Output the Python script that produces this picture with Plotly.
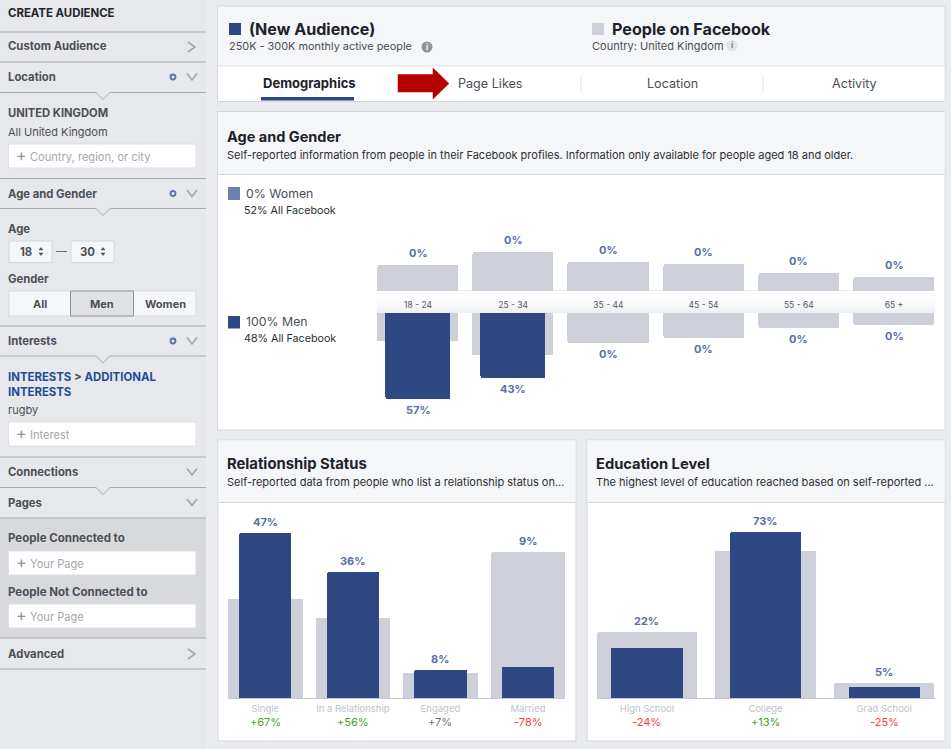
import plotly.graph_objects as go

W, H = 951, 749
FONT = "Inter"

BLUE = "#2f4883"
GREY = "#cdd0d8"
LABEL_BLUE = "#5a6fa5"
DARK = "#1d2129"
SIDE_TXT = "#4b4f56"
RULE = "#a9acb1"
EDGE = "#d3d7de"
GREEN = "#42a52e"
RED = "#fa3e3e"
NEUTRAL = "#6f7278"

# ── Data ───────────────────────────────────────────────────────────────
age_groups = ["18 - 24", "25 - 34", "35 - 44", "45 - 54", "55 - 64", "65 +"]
women_audience = [0, 0, 0, 0, 0, 0]
women_facebook = [17, 25.6, 19, 17.9, 11.9, 9.3]
men_audience = [57, 43, 0, 0, 0, 0]
men_facebook = [18.5, 27.8, 19.9, 16.6, 9.9, 8]

rel_labels = ["Single", "In a Relationship", "Engaged", "Married"]
rel_audience = [47, 36, 8, 9]
rel_facebook = [28.3, 22.8, 7.3, 41.6]
rel_delta = ["+67%", "+56%", "+7%", "-78%"]

edu_labels = ["High School", "College", "Grad School"]
edu_audience = [22, 73, 5]
edu_facebook = [29, 64.6, 6.6]
edu_delta = ["-24%", "+13%", "-25%"]


def fx(x):
    return x / W


def fy(y):
    return 1 - y / H


shapes = []
notes = []


def rect(x0, y0, x1, y1, fill, line=None):
    shapes.append(dict(type="rect", xref="paper", yref="paper", layer="below",
                       x0=fx(x0), x1=fx(x1), y0=fy(y0), y1=fy(y1), fillcolor=fill,
                       line=dict(color=line, width=1) if line else dict(width=0)))


def poly(points, color, width=1, fill=None):
    path = "M" + " L".join(f"{fx(x):.5f},{fy(y):.5f}" for x, y in points)
    if fill:
        path += " Z"
    shapes.append(dict(type="path", xref="paper", yref="paper", layer="below", path=path,
                       fillcolor=fill, line=dict(color=color, width=width)))


def dot(cx, cy, r, fill, line=None, width=1):
    shapes.append(dict(type="circle", xref="paper", yref="paper", layer="below",
                       x0=fx(cx - r), x1=fx(cx + r), y0=fy(cy - r), y1=fy(cy + r), fillcolor=fill,
                       line=dict(color=line, width=width) if line else dict(width=0)))


def text(x, y, s, size=11, color=DARK, bold=False, anchor="left"):
    notes.append(dict(xref="paper", yref="paper", x=fx(x), y=fy(y), text=f"<b>{s}</b>" if bold else s,
                      showarrow=False, xanchor=anchor, yanchor="middle", borderpad=0, borderwidth=0,
                      font=dict(family=FONT, size=size, color=color)))


# ── Sidebar ────────────────────────────────────────────────────────────
rect(0, 0, 206, 749, "#e7e8eb")
rect(0, 518, 206, 638, "#d8d9dc")

text(8, 13, "CREATE AUDIENCE", 11.4, "#23262b", True)
for y in [32, 62, 178.5, 326, 457, 518, 638, 669]:
    poly([(0, y), (206, y)], RULE)
for y in [92.5, 208.5, 356, 487.5]:
    poly([(0, y), (96, y), (103, y + 7), (110, y), (206, y)], RULE)

for y, s in [(46.5, "Custom Audience"), (77, "Location"), (193.5, "Age and Gender"), (341, "Interests"),
             (472, "Connections"), (502.5, "Pages"), (653.5, "Advanced")]:
    text(8, y, s, 11.3, SIDE_TXT, True)

for y in [47, 654]:
    poly([(188, y - 5), (195, y), (188, y + 5)], "#a3a6ab", 1.6)
for y in [77, 193.5, 341, 472, 502.5]:
    poly([(187, y - 3.5), (192, y + 3), (197, y - 3.5)], "#a3a6ab", 1.6)
for y in [77, 193.5, 341]:
    dot(173, y, 2.5, "#e7e8eb", "#5a6fa5", 1.8)

text(8, 113, "UNITED KINGDOM", 11.2, SIDE_TXT, True)
text(8, 131.5, "All United Kingdom", 11, SIDE_TXT)
text(8, 229, "Age", 11.3, SIDE_TXT, True)
text(8, 279, "Gender", 11.3, SIDE_TXT, True)

# inputs with a plus sign
for y0, y1, s in [(144, 168, "Country, region, or city"), (422, 446, "Interest"),
                  (551, 575, "Your Page"), (604, 628, "Your Page")]:
    rect(8.5, y0, 196, y1, "#ffffff", "#dddfe2")
    text(16, y0 + 10.5, "+", 16, "#8d949e")
    text(30, y0 + 13, s, 11.1, "#a3a7ad")

# age steppers
for x0, x1, s, cx, ax in [(9, 52, "18", 25.5, 41), (71, 114, "30", 87.5, 103)]:
    rect(x0, 241, x1, 262.5, "#f5f6f7", "#d5d7db")
    text(cx, 251.5, s, 11.3, SIDE_TXT, True, "center")
    poly([(ax - 2, 250), (ax, 247.5), (ax + 2, 250)], SIDE_TXT, 0.5, SIDE_TXT)
    poly([(ax - 2, 253), (ax, 255.5), (ax + 2, 253)], SIDE_TXT, 0.5, SIDE_TXT)
poly([(56, 251.5), (67, 251.5)], "#6a6e74")

# gender toggle
rect(9, 291, 196, 316, "#f5f6f7", "#d9dbde")
rect(70.5, 291, 133.5, 316, "#dfe1e4", "#8f9297")
text(39.5, 303.5, "All", 11, SIDE_TXT, True, "center")
text(102, 303.5, "Men", 11, SIDE_TXT, True, "center")
text(165, 303.5, "Women", 11, SIDE_TXT, True, "center")

text(8, 377, "INTERESTS <span style='color:#4b4f56'>&gt;</span> ADDITIONAL", 11.4, "#1f4b99", True)
text(8, 391.5, "INTERESTS", 11.4, "#1f4b99", True)
text(8, 410, "rugby", 11, SIDE_TXT)
text(8, 538, "People Connected to", 11.5, SIDE_TXT, True)
text(8, 591.5, "People Not Connected to", 11.5, SIDE_TXT, True)

# ── Top panel ──────────────────────────────────────────────────────────
rect(217.5, 6, 945, 101.5, "#f5f6f8", EDGE)
rect(218, 66, 944.5, 101, "#ffffff")
poly([(218, 66), (944.5, 66)], "#dfe2e7")
rect(229, 23, 241, 35, BLUE)
rect(592, 23, 604, 35, GREY)
text(249, 28.5, "(New Audience)", 16.1, DARK, True)
text(612, 28.5, "People on Facebook", 16.1, DARK, True)
text(229, 46.5, "250K - 300K monthly active people", 10.9, SIDE_TXT)
text(592, 46.5, "Country: United Kingdom", 11, SIDE_TXT)
dot(427, 47, 5.5, "#8f949b")
text(427, 47, "i", 8, "#ffffff", True, "center")
dot(732, 45.5, 5.5, "#e3e4e7")
text(732, 45.5, "i", 8, "#7d8188", True, "center")

text(309, 83, "Demographics", 13, DARK, True, "center")
text(490.5, 83, "Page Likes", 12.6, SIDE_TXT, anchor="center")
text(672, 83, "Location", 12.6, SIDE_TXT, anchor="center")
text(854, 83, "Activity", 12.6, SIDE_TXT, anchor="center")
rect(261, 97, 354, 100.5, BLUE)
for x in [581, 763]:
    poly([(x, 74), (x, 94)], "#e3e5e9")
poly([(398, 74.5), (433, 74.5), (433, 68), (449, 83.5), (433, 99), (433, 92), (398, 92)], "#b50000", 0.5, "#b50000")

# ── Panels ─────────────────────────────────────────────────────────────
rect(217.5, 111.5, 945, 430, "#ffffff", EDGE)
rect(218, 112, 944.5, 174.5, "#f5f6f8")
poly([(218, 174.5), (944.5, 174.5)], EDGE)
text(227, 137, "Age and Gender", 14.5, DARK, True)
text(227, 155, "Self-reported information from people in their Facebook profiles. Information only available for people aged 18 and older.", 11, "#2b2e33")

for x0, x1, title, sub, title_size in [
    (218, 576, "Relationship Status", "Self-reported data from people who list a relationship status on...", 14.8),
    (587, 945, "Education Level", "The highest level of education reached based on self-reported ...", 14.7),
]:
    rect(x0, 440, x1, 741, "#ffffff", EDGE)
    rect(x0 + 0.5, 440.5, x1 - 0.5, 502.5, "#f5f6f8")
    poly([(x0, 502.5), (x1, 502.5)], EDGE)
    text(x0 + 9, 464, title, title_size, DARK, True)
    text(x0 + 9, 482, sub, 11, "#2b2e33")

# legend of the age chart
rect(228, 187, 240, 200, "#6d80ae")
rect(228, 316, 240, 328.5, BLUE)
text(245.5, 193, "0% Women", 12.3, SIDE_TXT)
text(244, 210, "52% All Facebook", 10.7, "#2b2e33")
text(245.5, 321, "100% Men", 12.3, SIDE_TXT)
text(244, 338, "48% All Facebook", 10.7, "#2b2e33")

# strip between the two halves of the age chart
rect(377, 290, 935, 291, "#e6e8ec")
strip_colors = ["#ffffff", "#ffffff", "#fefefe", "#fdfdfd", "#fcfcfd", "#fafafb", "#f8f9fa", "#f6f7f8", "#f4f5f6",
                "#f2f3f5", "#eff0f2"]
for i, c in enumerate(strip_colors):
    rect(377, 291 + i * 2, 935, 293 + i * 2, c)

# ── Bars ───────────────────────────────────────────────────────────────
fig = go.Figure()


def add_pair(labels, facebook, audience, xa, ya, fb_width, aud_width):
    fig.add_bar(x=labels, y=facebook, width=fb_width, xaxis=xa, yaxis=ya, name="People on Facebook",
                marker=dict(color=GREY, line=dict(width=0), cornerradius=2), showlegend=False)
    fig.add_bar(x=labels, y=audience, width=aud_width, xaxis=xa, yaxis=ya, name="(New Audience)",
                marker=dict(color=BLUE, line=dict(width=0), cornerradius=2), showlegend=False)


add_pair(age_groups, men_facebook, men_audience, "x", "y", 0.854, 0.68)
add_pair(age_groups, women_facebook, women_audience, "x2", "y2", 0.854, 0.68)
add_pair(rel_labels, rel_facebook, rel_audience, "x3", "y3", 0.851, 0.597)
add_pair(edu_labels, edu_facebook, edu_audience, "x4", "y4", 0.847, 0.6)


def value_labels(labels, facebook, audience, xa, ya, shift):
    for name, fb, aud in zip(labels, facebook, audience):
        notes.append(dict(xref=xa, yref=ya, x=name, y=max(fb, aud), text=f"<b>{aud}%</b>", showarrow=False,
                          yanchor="middle", yshift=shift,
                          font=dict(family=FONT, size=11, color=LABEL_BLUE)))


value_labels(age_groups, men_facebook, men_audience, "x", "y", -11)
value_labels(age_groups, women_facebook, women_audience, "x2", "y2", 12)
value_labels(rel_labels, rel_facebook, rel_audience, "x3", "y3", 11)
value_labels(edu_labels, edu_facebook, edu_audience, "x4", "y4", 11)


def delta_labels(labels, deltas, xa):
    for name, d in zip(labels, deltas):
        value = int(d.strip("%"))
        color = NEUTRAL if abs(value) < 10 else (GREEN if value > 0 else RED)
        notes.append(dict(xref=xa, yref="paper", x=name, y=fy(721.5), text=d, showarrow=False, yanchor="middle",
                          font=dict(family=FONT, size=11, color=color)))


delta_labels(rel_labels, rel_delta, "x3")
delta_labels(edu_labels, edu_delta, "x4")

tick_font = dict(family=FONT, size=9.5, color="#c0c3c9")
hidden_y = dict(visible=False, fixedrange=True)

fig.update_layout(
    width=W,
    height=H,
    margin=dict(l=0, r=0, t=0, b=0),
    paper_bgcolor="#e9ebee",
    plot_bgcolor="rgba(0,0,0,0)",
    barmode="overlay",
    bargap=0,
    showlegend=False,
    shapes=shapes,
    annotations=notes,
    # age chart, men hang from the strip and carry the tick labels
    xaxis=dict(domain=[fx(370.4), fx(941.6)], range=[-0.5, 5.5], anchor="y", side="top", showline=False,
               showgrid=False, ticks="", tickfont=dict(family=FONT, size=8.5, color="#55585e"), ticklabelstandoff=2),
    yaxis=dict(domain=[fy(420), fy(313)], range=[70.86, 0], **hidden_y),
    # age chart, women stand on the strip
    xaxis2=dict(domain=[fx(370.4), fx(941.6)], range=[-0.5, 5.5], anchor="y2", visible=False),
    yaxis2=dict(domain=[fy(291), fy(232)], range=[0, 39.07], **hidden_y),
    xaxis3=dict(domain=[fx(228), fx(565.3)], range=[-0.426, 3.426], anchor="y3", showline=True, linecolor="#c4c7ce",
                linewidth=1, showgrid=False, ticks="", tickfont=tick_font, ticklabelstandoff=1),
    yaxis3=dict(domain=[fy(698.3), fy(500)], range=[0, 56.33], **hidden_y),
    xaxis4=dict(domain=[fx(597), fx(934.7)], range=[-0.421, 2.426], anchor="y4", showline=True, linecolor="#c4c7ce",
                linewidth=1, showgrid=False, ticks="", tickfont=tick_font, ticklabelstandoff=1),
    yaxis4=dict(domain=[fy(698.3), fy(500)], range=[0, 87.05], **hidden_y),
)

fig.write_html("out.html", config=dict(displayModeBar=False),
               post_script="document.body.style.margin='0';document.body.style.overflow='hidden';")
